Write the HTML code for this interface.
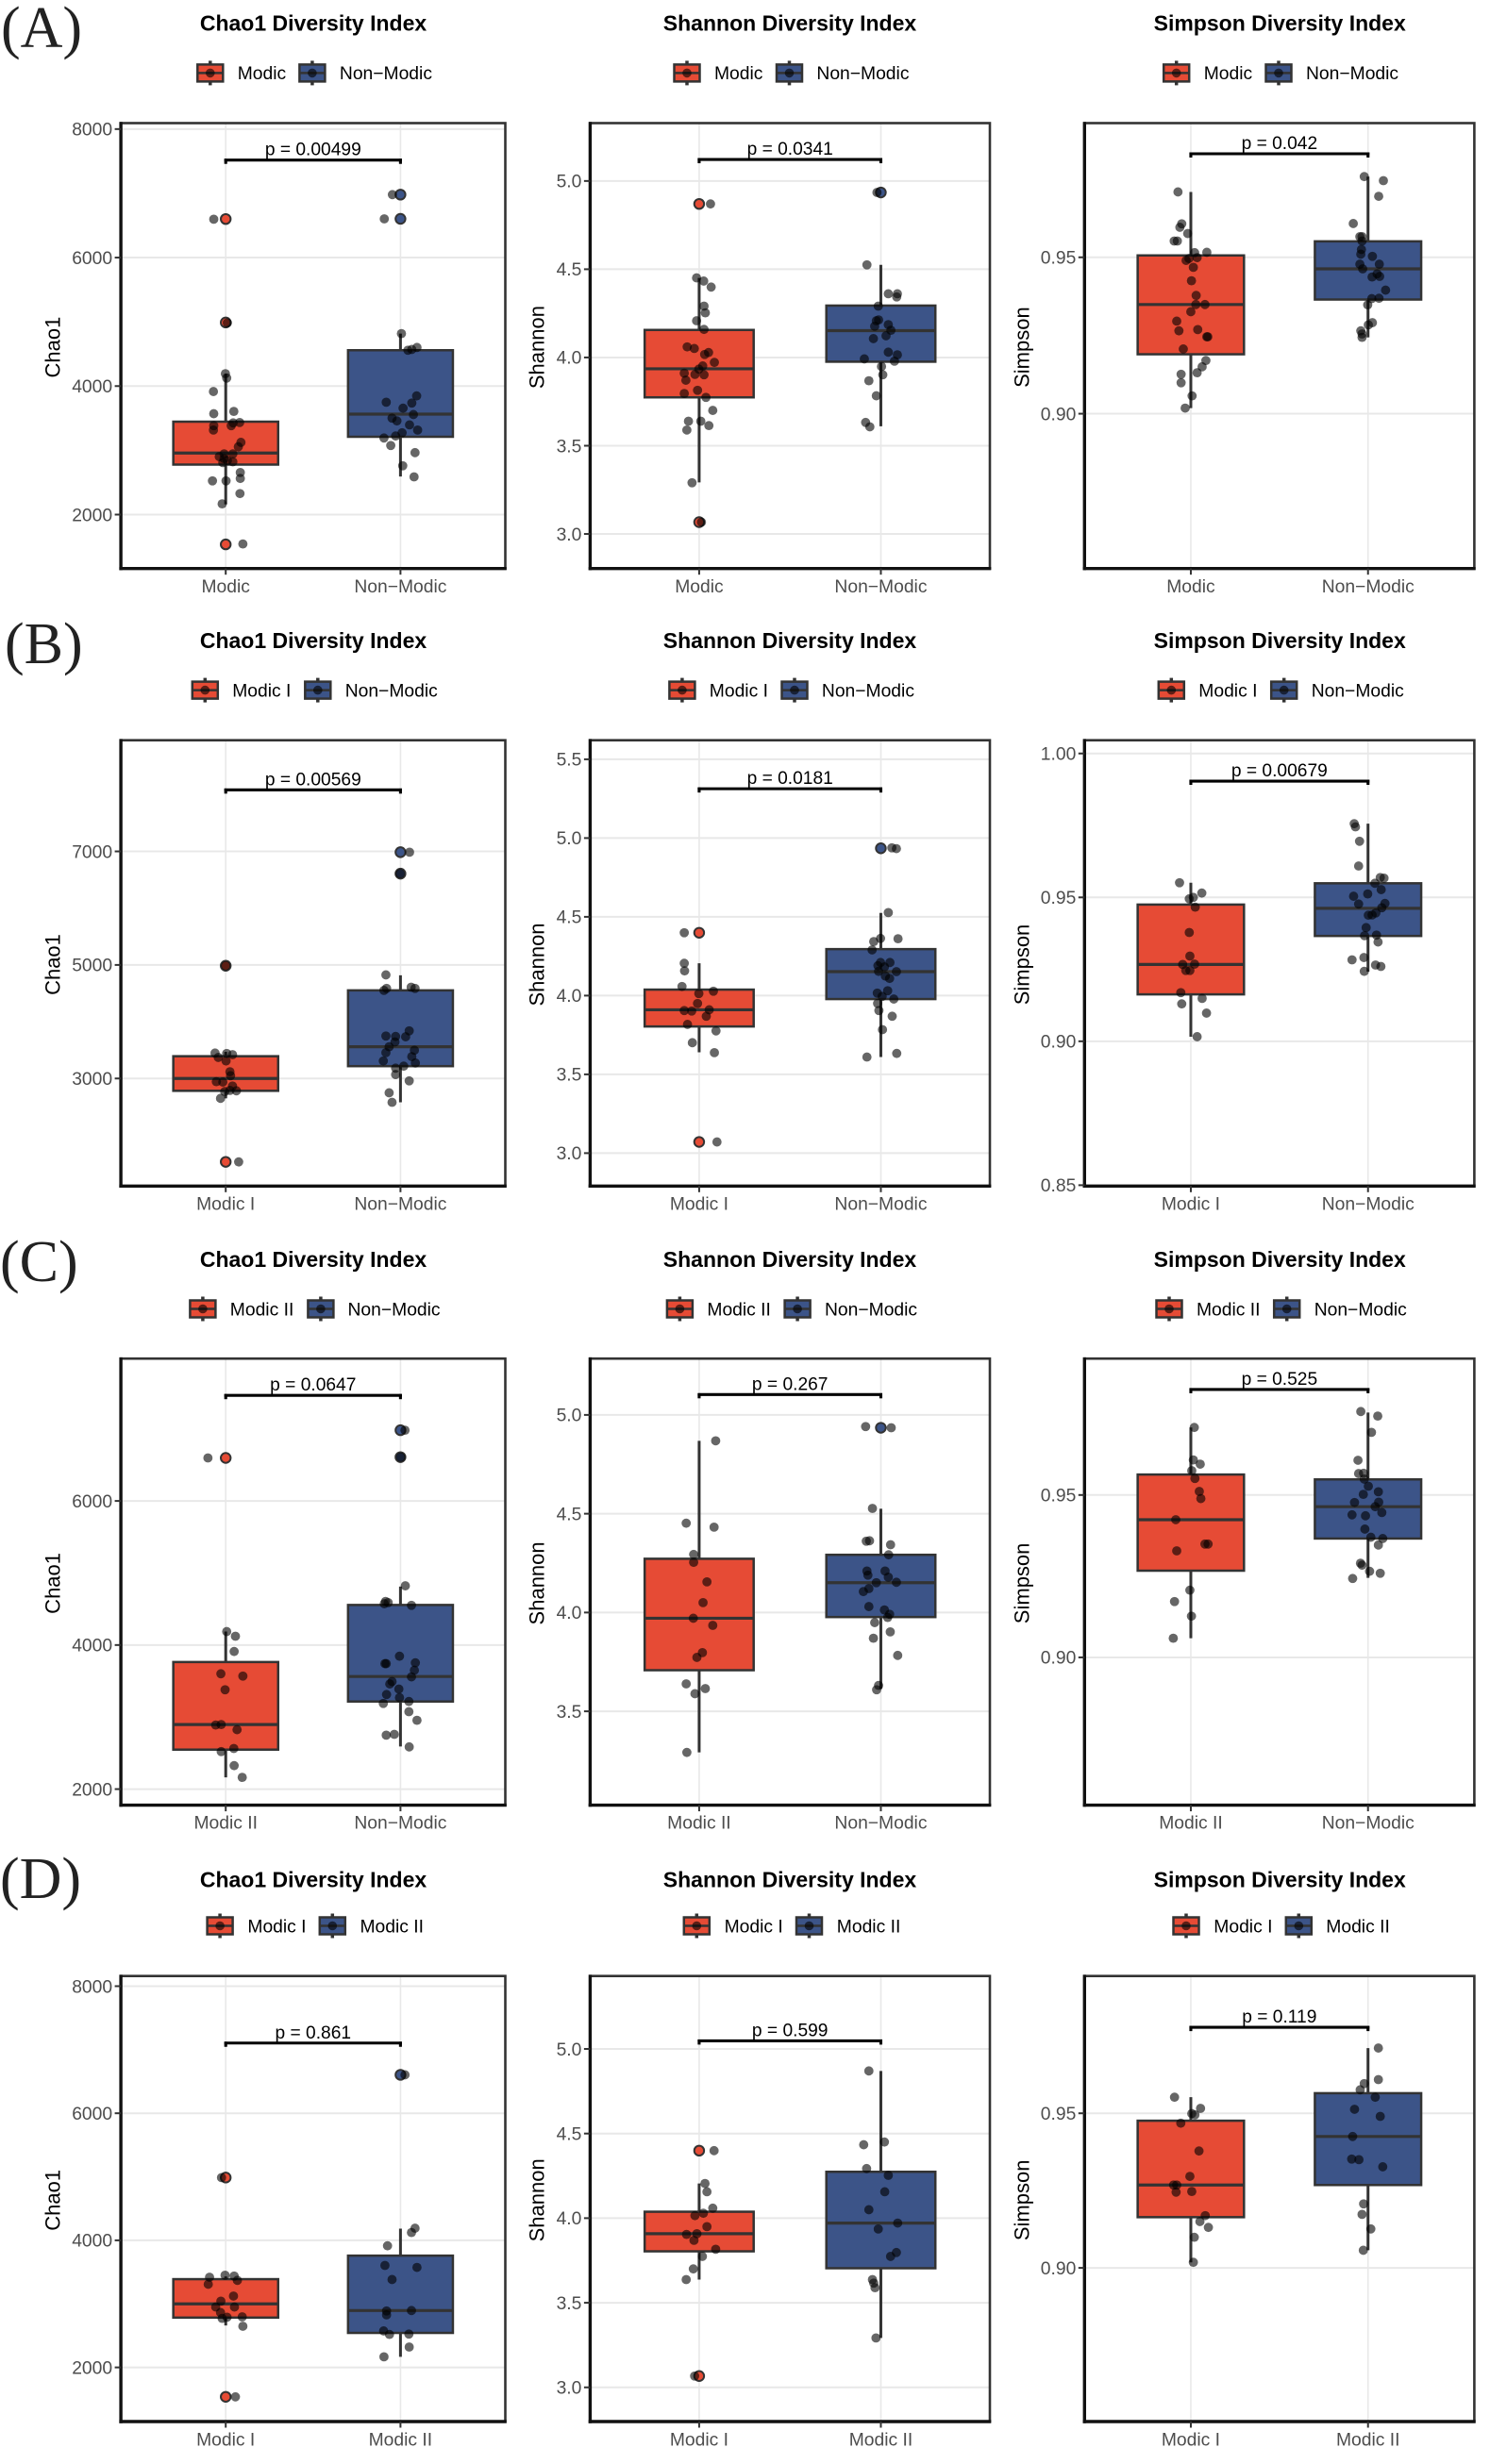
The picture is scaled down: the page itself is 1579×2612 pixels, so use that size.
<!DOCTYPE html>
<html lang="en">
<head>
<meta charset="utf-8">
<title>Alpha diversity box plots</title>
<style>
html,body{margin:0;padding:0;background:#fff;}
svg{display:block;font-family:"Liberation Sans",Arial,sans-serif;}
</style>
</head>
<body>
<svg id="figure" xmlns="http://www.w3.org/2000/svg" width="1579" height="2612" viewBox="0 0 1579 2612">
<rect x="0" y="0" width="1579" height="2612" fill="#fff"/>
<g font-family="'Liberation Serif',serif" font-size="62" fill="#222">
<text x="1" y="50">(A)</text>
<text x="5" y="703">(B)</text>
<text x="0" y="1358">(C)</text>
<text x="0" y="2012">(D)</text>
</g>
</svg>
<script>
// ---------- Row categories ----------
const catsA = ['Modic','Non−Modic'];
const catsB = ['Modic I','Non−Modic'];
const catsC = ['Modic II','Non−Modic'];
const catsD = ['Modic I','Modic II'];
const titles = ['Chao1 Diversity Index','Shannon Diversity Index','Simpson Diversity Index'];
const yTitles = ['Chao1','Shannon','Simpson'];

// ---------- Row A ----------
const aChaoTicks = ['2000','4000','6000','8000'];
const aChaoDomain = [1160,8093];
const aChaoBracket = 7517;
const aChaoP = 'p = 0.00499';
const aChaoBox1 = [2160,2778,2958,3446,4193];
const aChaoOut1 = [6600,4990,1536];
const aChaoV1 = [6597,4984,1543,4193,4125,3915,3570,3606,3384,3316,3384,3427,3433,3124,3056,2945,2902,2871,2945,2809,2840,2822,2655,2562,2525,2525,2327,2167];
const aChaoJ1 = [-37,5,53,-1,3,-38,-37,25,-37,-38,17,23,43,47,39,-5,-20,-5,22,-9,5,22,45,45,-41,1,44,-11];
const aChaoBox2 = [2593,3211,3563,4558,4817];
const aChaoOut2 = [6980,6603];
const aChaoV2 = [6980,6603,4817,4601,4558,4570,3749,3847,3736,3656,3557,3501,3458,3396,3316,3273,3223,3192,3075,2964,2760,2587];
const aChaoJ2 = [-25,-50,3,51,23,35,-44,50,35,8,40,-26,-11,28,53,5,-15,-51,-30,45,7,42];

const aShanTicks = ['3.0','3.5','4.0','4.5','5.0'];
const aShanDomain = [2.804,5.328];
const aShanBracket = 5.122;
const aShanP = 'p = 0.0341';
const aShanBox1 = [3.292,3.774,3.936,4.156,4.451];
const aShanOut1 = [4.87,3.067];
const aShanV1 = [4.870,3.067,4.451,4.433,4.399,4.291,4.253,4.208,4.159,4.060,4.051,4.017,4.028,3.972,3.952,3.934,3.911,3.904,3.902,3.871,3.814,3.796,3.774,3.700,3.639,3.639,3.614,3.589,3.290];
const aShanJ1 = [35,7,-8,14,37,15,19,-8,15,-37,-15,17,29,47,11,-1,-46,-13,15,-41,-5,-46,21,42,-33,5,30,-38,-22];
const aShanBox2 = [3.610,3.976,4.152,4.294,4.525];
const aShanOut2 = [4.935];
const aShanV2 = [4.935,4.525,4.361,4.361,4.343,4.291,4.208,4.213,4.177,4.186,4.154,4.123,4.107,4.030,4.015,3.992,3.979,3.949,3.902,3.868,3.783,3.632,3.607];
const aShanJ2 = [-12,-43,23,51,49,-8,-14,-7,-19,23,31,16,-23,23,51,-51,42,2,6,-37,-14,-47,-34];

const aSimpTicks = ['0.90','0.95'];
const aSimpDomain = [0.8505,0.9929];
const aSimpBracket = 0.9831;
const aSimpP = 'p = 0.042';
const aSimpBox1 = [0.9018,0.9190,0.9349,0.9506,0.9709];
const aSimpOut1 = [];
const aSimpV1 = [.9709,.9607,.9596,.9576,.9552,.9552,.9515,.9516,.9490,.9496,.9499,.9468,.9425,.9378,.9349,.9349,.9326,.9296,.9265,.9269,.9246,.9246,.9207,.9170,.9150,.9131,.9126,.9099,.9057,.9018];
const aSimpJ1 = [-41,-29,-35,-10,-53,-43,12,51,-15,-6,20,8,2,17,16,45,0,-45,-38,22,51,54,-24,48,36,20,-31,-31,4,-18];
const aSimpBox2 = [0.9244,0.9365,0.9463,0.9551,0.9758];
const aSimpOut2 = [];
const aSimpV2 = [.9758,.9745,.9695,.9608,.9566,.9566,.9552,.9525,.9510,.9503,.9478,.9478,.9463,.9447,.9437,.9439,.9395,.9368,.9369,.9348,.9291,.9284,.9265,.9255,.9244];
const aSimpJ2 = [-12,49,34,-47,-26,-19,-19,-21,-23,14,-26,36,-17,29,13,37,56,12,35,-1,14,1,-23,-19,-19];

// ---------- Row B ----------
const bChaoTicks = ['3000','5000','7000'];
const bChaoDomain = [1105,8958];
const bChaoBracket = 8084;
const bChaoP = 'p = 0.00569';
const bChaoBox1 = [2650,2783,3000,3392,3469];
const bChaoOut1 = [4986,1531];
const bChaoV1 = [4986,1531,3448,3441,3420,3371,3308,3119,3049,2944,2937,2867,2769,2790,2783,2650];
const bChaoJ1 = [0,40,-33,3,21,-23,1,13,15,-29,-9,21,-3,13,33,-16];
const bChaoBox2 = [2580,3217,3559,4552,4818];
const bChaoOut2 = [6986,6608];
const bChaoV2 = [6986,6608,4825,4587,4552,4608,4587,3839,3748,3741,3734,3643,3559,3497,3455,3385,3308,3273,3182,3217,3070,2958,2748,2580];
const bChaoJ2 = [28,-1,-45,-43,-51,33,45,27,-45,-15,16,-17,-35,43,-45,35,-53,46,-15,10,-15,27,-35,-26];

const bShanTicks = ['3.0','3.5','4.0','4.5','5.0','5.5'];
const bShanDomain = [2.791,5.621];
const bShanBracket = 5.313;
const bShanP = 'p = 0.0181';
const bShanBox1 = [3.640,3.804,3.910,4.038,4.205];
const bShanOut1 = [4.399,3.071];
const bShanV1 = [4.399,4.205,4.157,4.058,4.028,4.013,3.950,3.905,3.902,3.910,3.869,3.817,3.776,3.701,3.638,3.071];
const bShanJ1 = [-46,-46,-45,-53,44,-1,-5,-46,-23,31,22,-36,52,-21,47,55];
const bShanBox2 = [3.610,3.978,4.152,4.295,4.525];
const bShanOut2 = [4.935];
const bShanV2 = [4.938,4.933,4.527,4.363,4.361,4.343,4.290,4.210,4.210,4.190,4.182,4.154,4.152,4.124,4.109,4.016,4.031,3.995,3.978,3.950,3.905,3.869,3.784,3.610,3.633];
const bShanJ2 = [34,48,23,-1,53,-22,-27,-1,28,-9,11,-7,48,14,27,-11,21,4,40,-10,-6,35,5,-43,49];

const bSimpTicks = ['0.85','0.90','0.95','1.00'];
const bSimpDomain = [0.8497,1.0046];
const bSimpBracket = 0.9904;
const bSimpP = 'p = 0.00679';
const bSimpBox1 = [0.9016,0.9163,0.9267,0.9475,0.9551];
const bSimpOut1 = [];
const bSimpV1 = [.9551,.9515,.9495,.9500,.9466,.9378,.9296,.9267,.9268,.9246,.9246,.9169,.9149,.9130,.9098,.9016];
const bSimpJ1 = [-36,35,-5,8,14,-5,-3,-26,12,-16,-3,-32,36,-29,50,20];
const bSimpBox2 = [0.9242,0.9366,0.9462,0.9549,0.9756];
const bSimpOut2 = [];
const bSimpV2 = [.9756,.9745,.9695,.9609,.9569,.9567,.9549,.9527,.9504,.9512,.9477,.9479,.9464,.9446,.9438,.9439,.9395,.9367,.9369,.9345,.9291,.9283,.9265,.9260,.9243];
const bSimpJ2 = [-44,-40,-27,-30,39,51,22,42,-46,-1,-30,54,44,25,1,13,-6,-11,27,32,-13,-51,24,41,-12];

// ---------- Row C ----------
const cChaoTicks = ['2000','4000','6000'];
const cChaoDomain = [1777,7976];
const cChaoBracket = 7465;
const cChaoP = 'p = 0.0647';
const cChaoBox1 = [2163,2548,2896,3764,4187];
const cChaoOut1 = [6597];
const cChaoV1 = [6597,4187,4122,3910,3601,3569,3379,2890,2896,2825,2521,2564,2326,2163];
const cChaoJ1 = [-55,3,30,26,-15,53,-2,-31,-14,35,-14,25,26,51];
const cChaoBox2 = [2592,3216,3563,4556,4811];
const cChaoOut2 = [6982,6608];
const cChaoV2 = [6982,6608,4822,4605,4573,4589,4551,3845,3742,3742,3753,3650,3558,3493,3460,3389,3313,3270,3216,3189,3075,2955,2749,2760,2586];
const cChaoJ2 = [14,1,15,-46,-50,-38,34,-3,-48,-44,46,43,34,-26,-33,-5,-43,-3,26,-53,26,51,-44,-19,27];

const cShanTicks = ['3.5','4.0','4.5','5.0'];
const cShanDomain = [3.025,5.285];
const cShanBracket = 5.103;
const cShanP = 'p = 0.267';
const cShanBox1 = [3.292,3.708,3.971,4.272,4.869];
const cShanOut1 = [];
const cShanV1 = [4.869,4.452,4.432,4.294,4.254,4.155,4.050,3.971,3.935,3.797,3.773,3.639,3.615,3.589,3.292];
const cShanJ1 = [51,-40,46,-17,-17,24,12,-18,42,10,-7,-40,19,-13,-38];
const cShanBox2 = [3.613,3.977,4.151,4.292,4.525];
const cShanOut2 = [4.935];
const cShanV2 = [4.941,4.935,4.527,4.361,4.363,4.343,4.292,4.210,4.210,4.189,4.179,4.151,4.153,4.121,4.106,4.030,4.013,3.991,3.975,3.949,3.902,3.870,3.783,3.631,3.609];
const cShanJ2 = [-47,32,-26,-45,-35,30,24,-43,13,-40,23,-14,48,-37,-54,-37,11,27,21,-19,29,-23,52,-7,-13];

const cSimpTicks = ['0.90','0.95'];
const cSimpDomain = [0.8545,0.9920];
const cSimpBracket = 0.9825;
const cSimpP = 'p = 0.525';
const cSimpBox1 = [0.9059,0.9267,0.9424,0.9563,0.9708];
const cSimpOut1 = [];
const cSimpV1 = [.9708,.9608,.9595,.9575,.9551,.9511,.9489,.9424,.9349,.9349,.9328,.9207,.9172,.9127,.9059];
const cSimpJ1 = [11,8,30,3,13,27,32,-48,45,55,-45,-3,-52,2,-56];
const cSimpBox2 = [0.9245,0.9366,0.9464,0.9548,0.9754];
const cSimpOut2 = [];
const cSimpV2 = [.9757,.9743,.9693,.9607,.9566,.9567,.9549,.9527,.9502,.9510,.9477,.9478,.9464,.9439,.9436,.9446,.9395,.9370,.9366,.9346,.9290,.9284,.9265,.9259,.9243];
const cSimpJ2 = [-23,31,11,-32,-30,-14,-12,1,-15,33,-43,34,23,-51,-8,44,-10,9,47,33,-24,-19,5,39,-49];

// ---------- Row D ----------
const dChaoTicks = ['2000','4000','6000','8000'];
const dChaoDomain = [1148,8160];
const dChaoBracket = 7105;
const dChaoP = 'p = 0.861';
const dChaoBox1 = [2660,2784,3000,3389,3432];
const dChaoOut1 = [4988,1537];
const dChaoV1 = [4988,1537,3420,3451,3438,3370,3309,3123,3043,2951,2951,2864,2790,2772,2796,2648];
const dChaoJ1 = [-13,30,-50,-2,26,36,-54,24,-15,-31,27,-16,4,-11,51,53];
const dChaoBox2 = [2167,2543,2895,3759,4185];
const dChaoOut2 = [6605];
const dChaoV2 = [6605,4191,4123,3914,3605,3574,3383,2889,2895,2827,2574,2519,2525,2321,2167];
const dChaoJ2 = [14,45,34,-40,-48,51,-26,-43,34,-43,-52,-34,26,27,-51];

const dShanTicks = ['3.0','3.5','4.0','4.5','5.0'];
const dShanDomain = [2.798,5.431];
const dShanBracket = 5.048;
const dShanP = 'p = 0.599';
const dShanBox1 = [3.637,3.804,3.908,4.038,4.205];
const dShanOut1 = [4.399,3.067];
const dShanV1 = [4.399,3.067,4.205,4.156,4.059,4.015,4.029,3.950,3.904,3.908,3.869,3.816,3.774,3.700,3.637];
const dShanJ1 = [46,-14,18,24,42,-13,13,24,-39,-7,-16,51,10,-18,-40];
const dShanBox2 = [3.292,3.704,3.971,4.274,4.870];
const dShanOut2 = [];
const dShanV2 = [4.870,4.434,4.450,4.293,4.253,4.156,4.050,3.971,3.936,3.797,3.774,3.637,3.616,3.589,3.292];
const dShanJ2 = [-37,-53,11,-44,23,12,-37,52,-8,48,30,-26,-22,-18,-15];

const dSimpTicks = ['0.90','0.95'];
const dSimpDomain = [0.8503,0.9944];
const dSimpBracket = 0.9778;
const dSimpP = 'p = 0.119';
const dSimpBox1 = [0.9018,0.9164,0.9268,0.9476,0.9552];
const dSimpOut1 = [];
const dSimpV1 = [.9552,.9516,.9499,.9495,.9468,.9378,.9296,.9268,.9268,.9245,.9247,.9169,.9150,.9131,.9099,.9018];
const dSimpJ1 = [-52,31,3,13,-32,26,-3,-55,-45,-47,3,46,29,56,11,8];
const dSimpBox2 = [0.9057,0.9268,0.9425,0.9565,0.9711];
const dSimpOut2 = [];
const dSimpV2 = [.9711,.9609,.9596,.9576,.9552,.9513,.9490,.9425,.9352,.9350,.9327,.9207,.9173,.9126,.9057];
const dSimpJ2 = [33,33,-12,-25,23,-43,39,-49,-52,-29,47,-14,-19,9,-15];

// ---------- Layout (not data) ----------
const colLayout = [
  {l:128.1,r:535.5,cx:332,yt:55.5,jitterDiv:540},
  {l:625.4,r:1049,cx:837,yt:568.5,jitterDiv:561},
  {l:1149.3,r:1562.4,cx:1356.2,yt:1082.5,jitterDiv:565}
];
const rowLayout = [
  {t:130.5,b:602.7,title:24.4,leg:77.4,xl:621},
  {t:784.7,b:1257.3,title:678.6,leg:731.6,xl:1275.8},
  {t:1440.2,b:1913.6,title:1334.9,leg:1387.5,xl:1931.9},
  {t:2094.7,b:2567,title:1992.4,leg:2041.5,xl:2585.8}
];
const legendLayout = [
  [[222.8,251.7,330.9,359.9],[728,757,836.5,865.4],[1246.7,1275.7,1355,1384]],
  [[217.3,246.2,336.8,365.7],[722.9,751.8,842,870.9],[1241.3,1270.3,1360.7,1389.7]],
  [[214.9,243.8,339.9,368.5],[720.4,749.4,845.1,874],[1239,1268,1363.7,1392.7]],
  [[233.1,262.4,352.3,381.5],[738.3,767.6,857.5,886.8],[1257,1286.3,1376.3,1405.3]]
];
const groupFill = ['#E64B35','#3C5488'];
const rowCats = [catsA,catsB,catsC,catsD];
const rowKeys = ['a','b','c','d'];
const colKeys = ['chao1','shannon','simpson'];

const panels = [
  [
    {ticks:aChaoTicks,domain:aChaoDomain,bracket:aChaoBracket,p:aChaoP,groups:[{v:aChaoV1,j:aChaoJ1,box:aChaoBox1,out:aChaoOut1},{v:aChaoV2,j:aChaoJ2,box:aChaoBox2,out:aChaoOut2}]},
    {ticks:aShanTicks,domain:aShanDomain,bracket:aShanBracket,p:aShanP,groups:[{v:aShanV1,j:aShanJ1,box:aShanBox1,out:aShanOut1},{v:aShanV2,j:aShanJ2,box:aShanBox2,out:aShanOut2}]},
    {ticks:aSimpTicks,domain:aSimpDomain,bracket:aSimpBracket,p:aSimpP,groups:[{v:aSimpV1,j:aSimpJ1,box:aSimpBox1,out:aSimpOut1},{v:aSimpV2,j:aSimpJ2,box:aSimpBox2,out:aSimpOut2}]}
  ],
  [
    {ticks:bChaoTicks,domain:bChaoDomain,bracket:bChaoBracket,p:bChaoP,groups:[{v:bChaoV1,j:bChaoJ1,box:bChaoBox1,out:bChaoOut1},{v:bChaoV2,j:bChaoJ2,box:bChaoBox2,out:bChaoOut2}]},
    {ticks:bShanTicks,domain:bShanDomain,bracket:bShanBracket,p:bShanP,groups:[{v:bShanV1,j:bShanJ1,box:bShanBox1,out:bShanOut1},{v:bShanV2,j:bShanJ2,box:bShanBox2,out:bShanOut2}]},
    {ticks:bSimpTicks,domain:bSimpDomain,bracket:bSimpBracket,p:bSimpP,groups:[{v:bSimpV1,j:bSimpJ1,box:bSimpBox1,out:bSimpOut1},{v:bSimpV2,j:bSimpJ2,box:bSimpBox2,out:bSimpOut2}]}
  ],
  [
    {ticks:cChaoTicks,domain:cChaoDomain,bracket:cChaoBracket,p:cChaoP,groups:[{v:cChaoV1,j:cChaoJ1,box:cChaoBox1,out:cChaoOut1},{v:cChaoV2,j:cChaoJ2,box:cChaoBox2,out:cChaoOut2}]},
    {ticks:cShanTicks,domain:cShanDomain,bracket:cShanBracket,p:cShanP,groups:[{v:cShanV1,j:cShanJ1,box:cShanBox1,out:cShanOut1},{v:cShanV2,j:cShanJ2,box:cShanBox2,out:cShanOut2}]},
    {ticks:cSimpTicks,domain:cSimpDomain,bracket:cSimpBracket,p:cSimpP,groups:[{v:cSimpV1,j:cSimpJ1,box:cSimpBox1,out:cSimpOut1},{v:cSimpV2,j:cSimpJ2,box:cSimpBox2,out:cSimpOut2}]}
  ],
  [
    {ticks:dChaoTicks,domain:dChaoDomain,bracket:dChaoBracket,p:dChaoP,groups:[{v:dChaoV1,j:dChaoJ1,box:dChaoBox1,out:dChaoOut1},{v:dChaoV2,j:dChaoJ2,box:dChaoBox2,out:dChaoOut2}]},
    {ticks:dShanTicks,domain:dShanDomain,bracket:dShanBracket,p:dShanP,groups:[{v:dShanV1,j:dShanJ1,box:dShanBox1,out:dShanOut1},{v:dShanV2,j:dShanJ2,box:dShanBox2,out:dShanOut2}]},
    {ticks:dSimpTicks,domain:dSimpDomain,bracket:dSimpBracket,p:dSimpP,groups:[{v:dSimpV1,j:dSimpJ1,box:dSimpBox1,out:dSimpOut1},{v:dSimpV2,j:dSimpJ2,box:dSimpBox2,out:dSimpOut2}]}
  ]
];

// ---------- Drawing ----------
const NS = 'http://www.w3.org/2000/svg';
const figure = document.getElementById('figure');
function mk(tag, attrs, parent, text){
  const el = document.createElementNS(NS, tag);
  for (const k in attrs) el.setAttribute(k, attrs[k]);
  if (text !== undefined) el.textContent = text;
  parent.appendChild(el);
  return el;
}
function line(parent, x1, y1, x2, y2, stroke, w, cap){
  return mk('line',{x1:x1,y1:y1,x2:x2,y2:y2,stroke:stroke,'stroke-width':w,'stroke-linecap':cap||'butt'},parent);
}

function drawLegend(parent, layout, cats, y){
  [0,1].forEach(function(g){
    const kx = layout[g*2], tx = layout[g*2+1];
    const entry = mk('g',{},parent);
    
    
    const stem = line(entry,kx,y-13,kx,y+13,'#333',3.5);
    
    
    const key = mk('rect',{x:kx-13.5,y:y-9,width:27,height:18,fill:groupFill[g],stroke:'#333','stroke-width':2.5},entry);
    
    
    const mid = line(entry,kx-13.5,y,kx+13.5,y,'#333',2.5);
    
    
    const dot = mk('circle',{cx:kx,cy:y,r:4.8,fill:'#000','fill-opacity':0.6},entry);
    
    
    const label = mk('text',{x:tx,y:y+6.8,'font-size':19.3,fill:'#000'},entry,cats[g]);
    
    
  });
}

function drawPanel(panel, r, c){
  const col = colLayout[c], row = rowLayout[r], cats = rowCats[r];
  const xScale = function(v){ return col.l + (v + 0.6) / 2.2 * (col.r - col.l); };
  const yScale = function(v){ return row.b - (v - panel.domain[0]) / (panel.domain[1] - panel.domain[0]) * (row.b - row.t); };
  const band = xScale(1) - xScale(0);

  const root = mk('g',{},figure);
  
  

  const title = mk('text',{x:col.cx,y:row.title+8.2,'text-anchor':'middle','font-size':23,'font-weight':'bold',fill:'#000'},root,titles[c]);
  
  

  drawLegend(root, legendLayout[r][c], cats, row.leg);

  // grid
  const grid = mk('g',{},root);
  
  
  panel.ticks.forEach(function(t){
    const gy = yScale(Number(t));
    line(grid,col.l,gy,col.r,gy,'#e8e8e8',2);
  });
  [0,1].forEach(function(g){
    line(grid,xScale(g),row.t,xScale(g),row.b,'#e8e8e8',1.6);
  });

  // boxes and points
  panel.groups.forEach(function(gr,g){
    const cx = xScale(g), hw = 0.3 * band;
    const group = mk('g',{},root);
    
    
    const whisker = line(group,cx,yScale(gr.box[0]),cx,yScale(gr.box[4]),'#333',3);
    
    
    const q3y = yScale(gr.box[3]), q1y = yScale(gr.box[1]), my = yScale(gr.box[2]);
    const box = mk('rect',{x:cx-hw,y:q3y,width:2*hw,height:q1y-q3y,fill:groupFill[g],stroke:'#333','stroke-width':2.5},group);
    
    
    const med = line(group,cx-hw,my,cx+hw,my,'#333',3.2);
    
    
    gr.out.forEach(function(v){
      const o = mk('circle',{cx:cx,cy:yScale(v),r:5.2,fill:groupFill[g],stroke:'#333','stroke-width':2},group);
      
      
    });
    gr.v.forEach(function(v,i){
      const p = mk('circle',{cx:xScale(g + gr.j[i] / col.jitterDiv),cy:yScale(v),r:4.9,fill:'#000','fill-opacity':0.6},group);
      
      
    });
  });

  // frame
  const frame = mk('rect',{x:col.l,y:row.t,width:col.r-col.l,height:row.b-row.t,fill:'none',stroke:'#333','stroke-width':2.6},root);
  
  
  const axisY = line(root,col.l,row.t-1.3,col.l,row.b+1.7,'#111',3.4);
  
  
  const axisX = line(root,col.l-1.7,row.b,col.r+1.3,row.b,'#111',3.4);
  
  

  // y ticks
  panel.ticks.forEach(function(t){
    const ty = yScale(Number(t));
    const mark = line(root,col.l-6.5,ty,col.l,ty,'#333',2);
    
    
    const lab = mk('text',{x:col.l-9,y:ty+6.8,'text-anchor':'end','font-size':19.3,fill:'#4d4d4d'},root,t);
    
    
  });

  // x ticks
  [0,1].forEach(function(g){
    const tx = xScale(g);
    const mark = line(root,tx,row.b,tx,row.b+6.5,'#333',2);
    
    
    const lab = mk('text',{x:tx,y:row.xl+6.8,'text-anchor':'middle','font-size':19.3,fill:'#4d4d4d'},root,cats[g]);
    
    
  });

  // y title
  const ymid = (row.t + row.b) / 2;
  const yt = mk('text',{x:col.yt,y:ymid+1.5,transform:'rotate(-90 '+col.yt+' '+(ymid+1.5)+')','text-anchor':'middle','font-size':22,dy:'0.36em',fill:'#000'},root,yTitles[c]);
  
  

  // significance bracket
  const bracketG = mk('g',{},root);
  
  
  const by = yScale(panel.bracket), bx1 = xScale(0), bx2 = xScale(1);
  line(bracketG,bx1-1.5,by,bx2+1.5,by,'#000',3.1);
  line(bracketG,bx1,by-1.4,bx1,by+4,'#000',3.1);
  line(bracketG,bx2,by-1.4,bx2,by+4,'#000',3.1);
  const pt = mk('text',{x:(bx1+bx2)/2,y:by-5,'text-anchor':'middle','font-size':19.2,fill:'#000'},root,panel.p);
  
  
}

panels.forEach(function(rowPanels,r){
  rowPanels.forEach(function(panel,c){ drawPanel(panel,r,c); });
});
</script>
</body>
</html>
